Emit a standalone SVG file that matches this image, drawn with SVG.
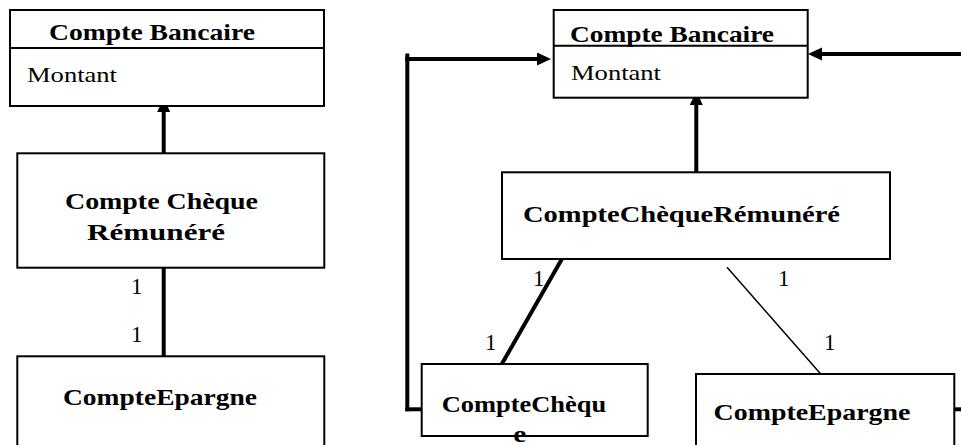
<svg xmlns="http://www.w3.org/2000/svg" width="961" height="445" viewBox="0 0 961 445">
<style>
.box{fill:#fff;stroke:#000;stroke-width:2}
.div{stroke:#000;stroke-width:2}
.t{font-family:"Liberation Serif","Times New Roman",serif;font-weight:bold;font-size:24px;fill:#000}
.r{font-family:"Liberation Serif","Times New Roman",serif;font-size:21px;fill:#000}
.m{font-family:"Liberation Serif","Times New Roman",serif;font-size:23px;fill:#000}
.thick{stroke:#000;stroke-width:4;fill:none}
.thin{stroke:#000;stroke-width:1.5;fill:none}
</style>
<defs>
<marker id="ah" markerUnits="userSpaceOnUse" markerWidth="14" markerHeight="14" refX="0" refY="6.5" orient="auto">
<path d="M0,0 L14,6.5 L0,13 z" fill="#000"/>
</marker>
</defs>
<rect width="961" height="445" fill="#fff"/>

<g id="connectors">
<line class="thick" x1="163.7" y1="153" x2="163.7" y2="112" marker-end="url(#ah)"/>
<line class="thick" x1="163.7" y1="267.7" x2="163.7" y2="356.5"/>
<line class="thick" x1="407.3" y1="53.5" x2="407.3" y2="411.3"/>
<line class="thick" x1="405.3" y1="59" x2="537" y2="59" marker-end="url(#ah)"/>
<line class="thick" x1="405.3" y1="409.3" x2="421.7" y2="409.3"/>
<line class="thick" x1="696.3" y1="172.3" x2="696.3" y2="105" marker-end="url(#ah)"/>
<line class="thick" x1="961" y1="54" x2="822" y2="54" marker-end="url(#ah)"/>
<line class="thick" x1="954.3" y1="409.3" x2="961" y2="409.3"/>
<line class="thick" x1="566.6" y1="250.7" x2="501.8" y2="364"/>
<line class="thin" x1="727" y1="267.3" x2="826" y2="380"/>
<text class="m" x="131" y="294">1</text>
<text class="m" x="131" y="341.7">1</text>
<text class="m" x="533" y="286">1</text>
<text class="m" x="778" y="286">1</text>
<text class="m" x="485" y="349.5">1</text>
<text class="m" x="824" y="350">1</text>
</g>

<g id="compte-bancaire-left">
<rect class="box" x="10" y="10" width="314" height="96"/>
<line class="div" x1="10" y1="48" x2="324" y2="48"/>
<text class="t" x="49" y="39.5" textLength="206" lengthAdjust="spacingAndGlyphs">Compte Bancaire</text>
<text class="r" x="27" y="82" textLength="90" lengthAdjust="spacingAndGlyphs">Montant</text>
</g>

<g id="compte-cheque-remunere-left">
<rect class="box" x="17.3" y="153.3" width="307" height="114.4"/>
<text class="t" x="65" y="208.5" textLength="193" lengthAdjust="spacingAndGlyphs">Compte Chèque</text>
<text class="t" x="87" y="240" textLength="138" lengthAdjust="spacingAndGlyphs">Rémunéré</text>
</g>

<g id="compte-epargne-left">
<rect class="box" x="17.3" y="356.3" width="307" height="110"/>
<text class="t" x="63" y="405" textLength="194" lengthAdjust="spacingAndGlyphs">CompteEpargne</text>
</g>

<g id="compte-bancaire-right">
<rect class="box" x="553.7" y="10" width="254" height="87.7"/>
<line class="div" x1="553.7" y1="45.7" x2="807.7" y2="45.7"/>
<text class="t" x="570" y="41.7" textLength="204" lengthAdjust="spacingAndGlyphs">Compte Bancaire</text>
<text class="r" x="571" y="80" textLength="90" lengthAdjust="spacingAndGlyphs">Montant</text>
</g>

<g id="compte-cheque-remunere-right">
<rect class="box" x="502" y="172.3" width="388" height="86.7"/>
<text class="t" x="523" y="221.7" textLength="317" lengthAdjust="spacingAndGlyphs">CompteChèqueRémunéré</text>
</g>

<g id="compte-cheque-right">
<rect class="box" x="421.7" y="364" width="226" height="72"/>
<text class="t" x="441.7" y="411.7" textLength="164.5" lengthAdjust="spacingAndGlyphs">CompteChèqu</text>
<text class="t" x="513.3" y="442" textLength="13" lengthAdjust="spacingAndGlyphs">e</text>
</g>

<g id="compte-epargne-right">
<rect class="box" x="696" y="374" width="258.3" height="100"/>
<text class="t" x="713.5" y="420" textLength="197" lengthAdjust="spacingAndGlyphs">CompteEpargne</text>
</g>
</svg>
